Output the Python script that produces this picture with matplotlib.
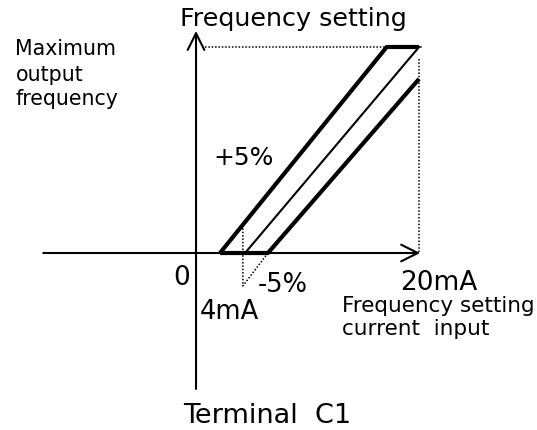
import matplotlib.pyplot as plt

# current input (mA) vs output frequency (% of maximum)
plus_x = [2.15, 17.1, 20.0]
plus_y = [0, 100, 100]
nominal_x = [4.4, 20.0]
nominal_y = [0, 100]
minus_x = [2.15, 6.45, 20.0]
minus_y = [0, 0, 84.5]

max_line_x = [0.8, 20.3]
max_line_y = [100, 100]
full_scale_x = [20.0, 20.0]
full_scale_y = [94, 0]
bias_x = [4.2, 4.2, 6.45]
bias_y = [13.6, -16, 0]

fig = plt.figure(figsize=(5.37, 4.31), dpi=100)
ax = fig.add_axes([0, 0, 1, 1])
ax.set_xlim(-17.58, 30.58)
ax.set_ylim(-85.92, 123.3)
ax.axis('off')

# axes with open arrow heads
arrow = dict(arrowstyle='->,head_length=1.0,head_width=0.5', lw=1.5, color='black',
             mutation_scale=12, shrinkA=0, shrinkB=0)
ax.annotate('', xy=(0, 107.8), xytext=(0, -66), arrowprops=arrow)
ax.annotate('', xy=(20.1, 0), xytext=(-13.7, 0), arrowprops=arrow)

# dotted guides
dots = dict(color='black', lw=1.1, linestyle=(0, (1, 1.2)))
ax.plot(max_line_x, max_line_y, **dots)
ax.plot(full_scale_x, full_scale_y, **dots)
ax.plot(bias_x, bias_y, **dots)

# characteristic lines
ax.plot(plus_x, plus_y, color='black', lw=3, solid_capstyle='butt')
ax.plot(minus_x, minus_y, color='black', lw=3, solid_capstyle='butt')
ax.plot(nominal_x, nominal_y, color='black', lw=1.5)

# texts
ax.text(-1.43, 110.7, 'Frequency setting', fontsize=18.3)
ax.text(-16.2, 96.6, 'Maximum', fontsize=14.8)
ax.text(-16.2, 84.0, 'output', fontsize=14.8)
ax.text(-16.2, 72.3, 'frequency', fontsize=14.8)
ax.text(1.52, 43.2, '+5%', fontsize=18)
ax.text(-2.06, -15.0, '0', fontsize=19)
ax.text(5.56, -18.4, '-5%', fontsize=18.5)
ax.text(0.36, -31.6, '4mA', fontsize=18.5)
ax.text(18.3, -17.5, '20mA', fontsize=19)
ax.text(13.1, -28.2, 'Frequency setting', fontsize=15.5)
ax.text(13.1, -39.3, 'current  input', fontsize=15.5)
ax.text(-1.17, -82.0, 'Terminal  C1', fontsize=19.5)

plt.savefig('out.png', dpi=100)
